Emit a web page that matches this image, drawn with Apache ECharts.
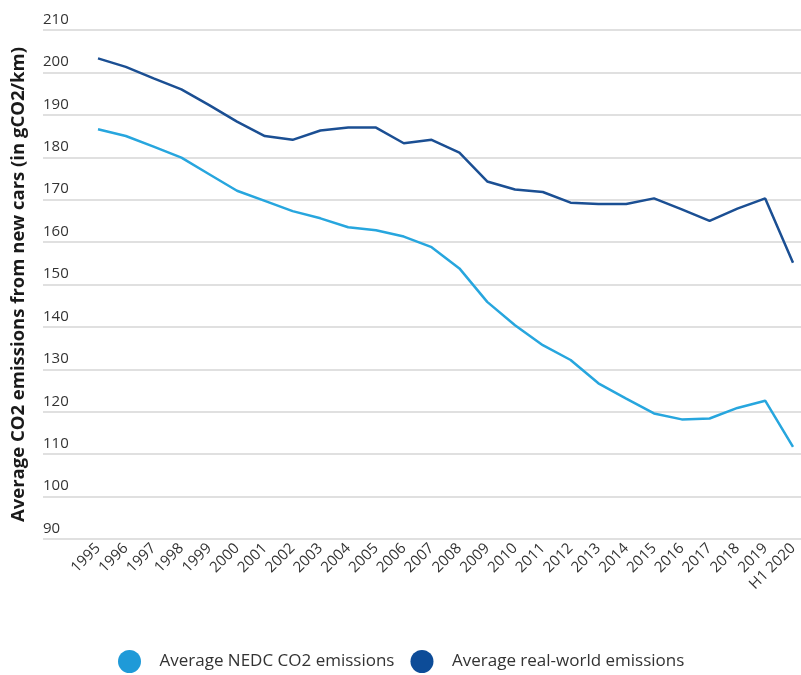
<!DOCTYPE html>
<html>
<head>
<meta charset="utf-8">
<script src="https://cdn.jsdelivr.net/npm/echarts@6/dist/echarts.min.js"></script>
<style>html,body{margin:0;padding:0;background:#fff}#c{width:801px;height:675px}</style>
</head>
<body>
<div id="c"></div>
<script>
const categories = ['1995','1996','1997','1998','1999','2000','2001','2002','2003','2004','2005','2006','2007','2008','2009','2010','2011','2012','2013','2014','2015','2016','2017','2018','2019','H1 2020'];
const nedc = [186.6,185.0,182.5,179.9,176.0,172.1,169.7,167.3,165.6,163.5,162.8,161.3,158.8,153.8,145.9,140.4,135.7,132.2,126.7,123.1,119.6,118.2,118.4,120.9,122.6,111.7];
const realWorld = [203.3,201.3,198.6,196.0,192.3,188.4,185.0,184.1,186.3,187.0,187.0,183.3,184.1,181.1,174.3,172.4,171.8,169.3,169.0,169.0,170.3,167.7,165.0,167.9,170.3,155.1];
const yTicks = {min: 90, max: 210, interval: 10};
const seriesNames = ['Average NEDC CO2 emissions', 'Average real-world emissions'];

const font = 'Open Sans';
const chart = echarts.init(document.getElementById('c'), null, {renderer: 'canvas'});
chart.setOption({
  animation: false,
  textStyle: {fontFamily: font},
  legend: {
    data: seriesNames,
    left: 113,
    top: 645,
    icon: 'circle',
    itemWidth: 24,
    itemHeight: 23,
    itemGap: 16,
    textStyle: {fontFamily: font, fontSize: 17, color: '#333', padding: [0, 0, 0, 13]}
  },
  grid: [
    {left: 43, right: 0, top: 30, bottom: 136},
    {left: 98, right: 8, top: 30, bottom: 136}
  ],
  xAxis: [
    {type: 'category', gridIndex: 0, data: categories, show: false},
    {
      type: 'category', gridIndex: 1, data: categories, boundaryGap: false,
      axisLine: {show: false}, axisTick: {show: false},
      axisLabel: {rotate: 45, interval: 0, margin: 7, fontSize: 15, color: '#333', fontFamily: font}
    }
  ],
  yAxis: [
    {
      type: 'value', gridIndex: 0, min: yTicks.min, max: yTicks.max, interval: yTicks.interval,
      axisLine: {show: false}, axisTick: {show: false},
      splitLine: {lineStyle: {color: '#d6d6d6', width: 1.5}},
      axisLabel: {inside: true, margin: 0, align: 'left', verticalAlign: 'bottom', padding: [0, 0, 3, 0], fontSize: 15, color: '#333', fontFamily: font},
      name: 'Average CO2 emissions from new cars (in gCO2/km)',
      nameLocation: 'middle', nameGap: 15,
      nameTextStyle: {fontSize: 18.5, fontWeight: 'bold', color: '#1a1a1a', fontFamily: font}
    },
    {
      type: 'value', gridIndex: 1, min: yTicks.min, max: yTicks.max, interval: yTicks.interval,
      show: false, splitLine: {show: false}
    }
  ],
  series: [
    {
      name: seriesNames[0], type: 'line', xAxisIndex: 1, yAxisIndex: 1, data: nedc,
      symbol: 'none', lineStyle: {color: '#27a6de', width: 2.5}, itemStyle: {color: '#1f9ad8'}
    },
    {
      name: seriesNames[1], type: 'line', xAxisIndex: 1, yAxisIndex: 1, data: realWorld,
      symbol: 'none', lineStyle: {color: '#1b4f93', width: 2.5}, itemStyle: {color: '#0d4c98'}
    }
  ]
});
</script>
</body>
</html>
